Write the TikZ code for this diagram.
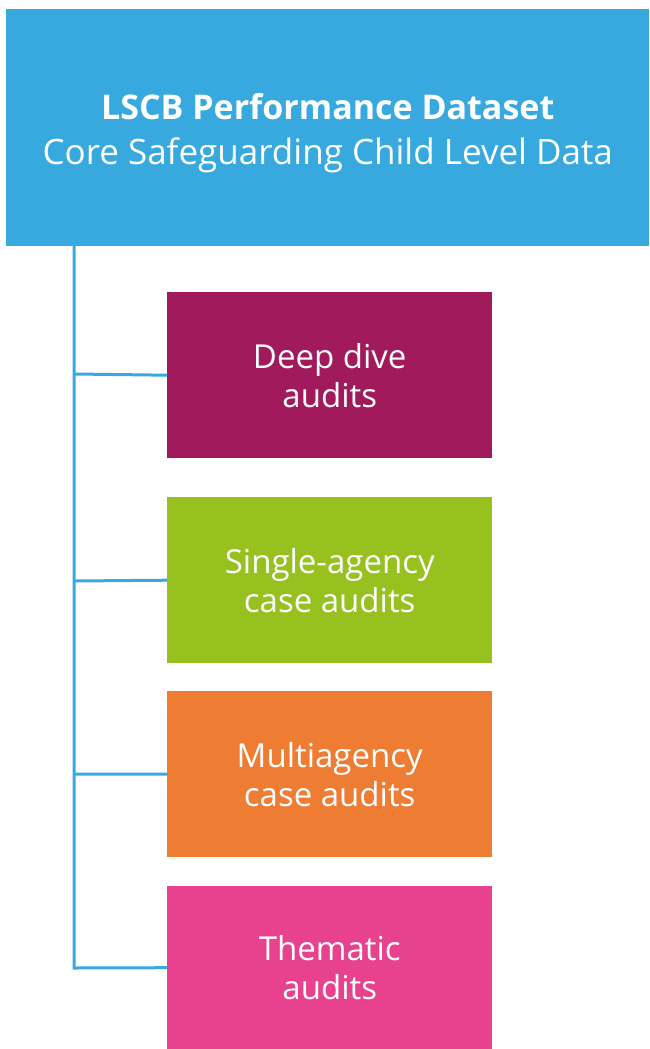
\documentclass[tikz,border=0pt]{standalone}
\usepackage{fontspec}
\setmainfont{Open Sans}
\definecolor{topblue}{HTML}{38A9DF}
\definecolor{lineblue}{HTML}{3AA8E0}
\definecolor{c1}{HTML}{A11A5B}
\definecolor{c2}{HTML}{96C11F}
\definecolor{c3}{HTML}{EE7C33}
\definecolor{c4}{HTML}{E8418E}
\begin{document}
\begin{tikzpicture}[x=1pt,y=-1pt,
  box/.style={draw=none,minimum width=325pt,minimum height=166pt,inner sep=0pt,text=white,align=center,font=\fontsize{33}{39}\selectfont},
  conn/.style={draw=lineblue,line width=3pt}]
\useasboundingbox (0,0) rectangle (649,1049);
\node[fill=topblue,minimum width=643pt,minimum height=237pt,inner sep=0pt,anchor=north west] (top) at (6,9) {};
\node[text=white,align=center,inner sep=0pt,font=\fontsize{35}{45}\selectfont] (toptext) at ([yshift=-5pt]top.center) {{\fontsize{34}{45}\selectfont\bfseries LSCB Performance Dataset}\\Core Safeguarding Child Level Data};
\node[box,fill=c1,anchor=north west] (b1) at (167,292) {Deep dive\\audits};
\node[box,fill=c2,anchor=north west] (b2) at (167,497) {Single-agency\\case audits};
\node[box,fill=c3,anchor=north west] (b3) at (167,691) {Multiagency\\case audits};
\node[box,fill=c4,anchor=north west,minimum height=163pt] (b4) at (167,886) {Thematic\\audits};
\coordinate (s) at (74,246);
\draw[conn] (s) -- (74,968) -- (b4.west);
\draw[conn] (74,374) -- (b1.west);
\draw[conn] (74,581) -- (b2.west);
\draw[conn] (74,774) -- (b3.west);
\end{tikzpicture}
\end{document}
